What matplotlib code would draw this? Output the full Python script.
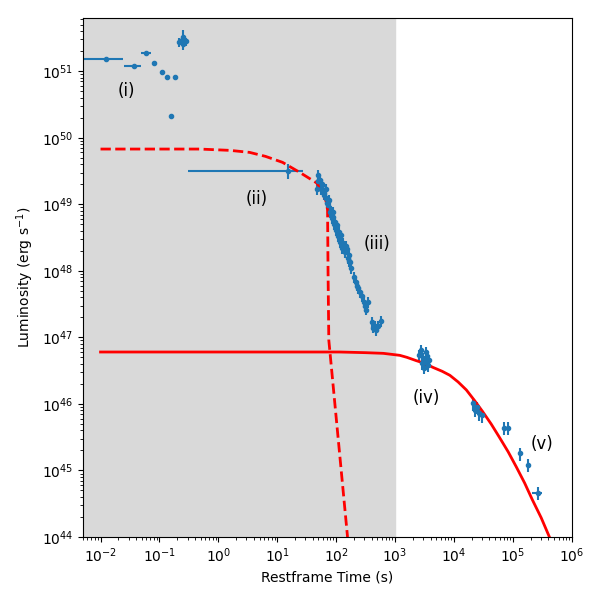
import numpy as np
import matplotlib
matplotlib.use("Agg")
import matplotlib.pyplot as plt

# prompt emission (i)
t_i = [0.0126, 0.0363, 0.0586, 0.0817, 0.110, 0.134, 0.182, 0.156, 0.211, 0.237, 0.256, 0.277, 0.247]
t_i_lo = [0.0076, 0.0108, 0.0103, 0.0080, 0.004, 0.004, 0.004, 0.0, 0.0, 0.0, 0.0, 0.0, 0.0]
t_i_hi = [0.0119, 0.0115, 0.0128, 0.0080, 0.004, 0.004, 0.004, 0.0, 0.0, 0.0, 0.0, 0.0, 0.0]
L_i = [1.55e51, 1.18e51, 1.9e51, 1.35e51, 9.6e50, 8.3e50, 8.3e50, 2.1e50, 2.7e51, 2.9e51, 2.6e51, 2.8e51, 3.3e51]
L_i_err = [0, 0, 0, 0, 0, 0, 0, 0, 4e50, 5e50, 5e50, 4e50, 8e50]

# (ii)
t_ii = [15.0]
t_ii_lo = [14.7]
t_ii_hi = [11.9]
L_ii = [3.2e49]
L_ii_err = [8e48]

# steep decay (iii)
t_iii = [48.3, 52.2, 46.4, 56.5, 61.1, 66.1, 71.5, 77.3, 83.6, 90.4, 97.7, 105.7, 114, 124,
         139, 156, 175, 182, 213, 231, 249, 292, 316, 341, 399, 449, 505, 567,
         66, 77, 90, 102, 119, 145, 162,
         50, 55, 58, 62, 70, 74, 82, 87, 95, 110, 130, 150, 168, 200, 222, 270, 305, 420, 480]
L_iii = [2.8e49, 2.3e49, 1.7e49, 1.95e49, 1.5e49, 1.23e49, 9.6e48, 7.6e48, 6.2e48, 5.0e48,
         4.1e48, 3.3e48, 2.7e48, 2.2e48, 1.9e48, 1.55e48, 1.35e48, 1.1e48, 6.7e47, 5.5e47,
         4.8e47, 3.4e47, 2.6e47, 3.4e47, 1.7e47, 1.5e47, 1.5e47, 1.75e47,
         1.7e49, 1.15e49, 7.6e48, 4.8e48, 3.4e48, 2.4e48, 1.7e48,
         2.2e49, 1.7e49, 2.0e49, 1.4e49, 1.05e49, 1.1e49, 8.0e48, 6.5e48, 5.5e48, 3.8e48,
         2.6e48, 2.1e48, 1.4e48, 8.0e47, 6.0e47, 4.2e47, 3.0e47, 1.4e47, 1.3e47]

# plateau (iv)
t_iv = [2506, 2710, 2930, 3170, 3430, 3560, 3050, 2820, 3300, 3710]
L_iv = [5.4e46, 6.4e46, 4.9e46, 4.2e46, 5.2e46, 3.8e46, 3.5e46, 4.1e46, 6.0e46, 4.6e46]

# late (v)
t_v = [2.07e4, 2.24e4, 2.42e4, 2.62e4, 2.94e4, 7.2e4, 8.1e4, 1.3e5, 1.78e5, 2.63e5]
L_v = [1.02e46, 8.1e45, 8.9e45, 7.2e45, 6.7e45, 4.4e45, 4.4e45, 1.8e45, 1.2e45, 4.6e44]
t_v_err = [1.5e3, 1.5e3, 1.5e3, 1.5e3, 1.5e3, 4e3, 4e3, 6e3, 6e3, 5.5e4]

# model curves (log10 values)
sol_logt = [-2, 0, 1, 2.06, 2.5, 2.8, 3.08, 3.2, 3.36, 3.5, 3.64, 3.8, 3.93, 4.07, 4.21,
            4.35, 4.49, 4.63, 4.77, 4.92, 5.06, 5.2, 5.33, 5.48, 5.62]
sol_logL = [46.78, 46.78, 46.78, 46.78, 46.77, 46.76, 46.73, 46.70, 46.65, 46.61, 46.55,
            46.49, 46.43, 46.33, 46.21, 46.05, 45.88, 45.70, 45.50, 45.28, 45.05, 44.81,
            44.56, 44.29, 44.0]
dash_logt = [-2, -0.32, 0.2, 0.53, 0.8, 1.09, 1.38, 1.67, 1.78, 1.84, 1.854, 1.862, 1.875, 2.193]
dash_logL = [49.83, 49.83, 49.81, 49.78, 49.72, 49.63, 49.48, 49.32, 49.18, 49.01, 48.91, 48.0, 46.96, 44.0]

labels = ["(i)", "(ii)", "(iii)", "(iv)", "(v)"]
label_t = [0.0277, 4.46, 485, 3430, 3.07e5]
label_L = [5e50, 1.2e49, 2.5e48, 1.23e46, 2.5e45]

fig = plt.figure(figsize=(6, 6), dpi=100)
ax = fig.add_axes([0.138, 0.105, 0.815, 0.865])

ax.axvspan(5e-3, 1e3, color='0.85', zorder=0)

ax.errorbar(t_i, L_i, xerr=[t_i_lo, t_i_hi], yerr=L_i_err, fmt='.', color='C0')
ax.errorbar(t_ii, L_ii, xerr=[t_ii_lo, t_ii_hi], yerr=L_ii_err, fmt='.', color='C0')
L_iii = np.array(L_iii)
ax.errorbar(t_iii, L_iii, xerr=np.array(t_iii) * 0.04, yerr=L_iii * 0.18, fmt='.', color='C0')
L_iv = np.array(L_iv)
ax.errorbar(t_iv, L_iv, xerr=100, yerr=L_iv * 0.2, fmt='.', color='C0')
L_v = np.array(L_v)
ax.errorbar(t_v, L_v, xerr=t_v_err, yerr=L_v * 0.22, fmt='.', color='C0')

ax.plot(10 ** np.array(sol_logt), 10 ** np.array(sol_logL), 'r-', lw=2)
ax.plot(10 ** np.array(dash_logt), 10 ** np.array(dash_logL), 'r--', lw=2)

for s, x, y in zip(labels, label_t, label_L):
    ax.text(x, y, s, fontsize=12, ha='center', va='center')

ax.set_xscale('log')
ax.set_yscale('log')
ax.set_xlim(5e-3, 1e6)
ax.set_ylim(1e44, 6.3e51)
ax.set_xlabel("Restframe Time (s)")
ax.set_ylabel("Luminosity (erg s$^{-1}$)")

fig.savefig("out.png")
